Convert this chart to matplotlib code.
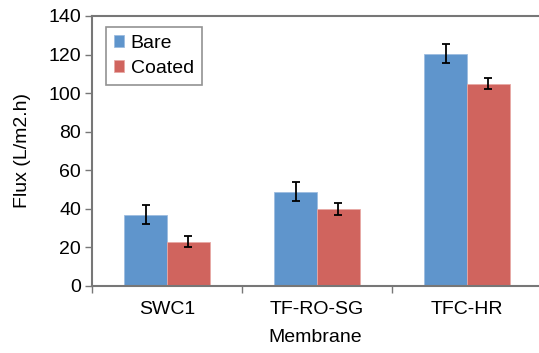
import matplotlib
matplotlib.use("Agg")
import matplotlib.pyplot as plt
import numpy as np

categories = ["SWC1", "TF-RO-SG", "TFC-HR"]
bare = [37, 49, 120.5]
bare_err = [5, 5, 5]
coated = [23, 40, 105]
coated_err = [3, 3, 3]

plt.rcParams['font.family'] = ['Liberation Sans', 'DejaVu Sans']
FS = 14

fig = plt.figure(figsize=(5.39, 3.53), dpi=100)
ax = fig.add_axes([92/539, 1-286/353, (539-92)/539, (286-16)/353])

x = np.arange(len(categories))
w = 0.285
gray = '#777777'
ax.bar(x - w/2, bare, w, yerr=bare_err, color='#5F95CC', edgecolor='#9DBDE0', linewidth=0.6,
       label='Bare', error_kw=dict(ecolor='black', capsize=3, elinewidth=1.3, capthick=1.3))
ax.bar(x + w/2, coated, w, yerr=coated_err, color='#D0645E', edgecolor='#E8A9A5', linewidth=0.6,
       label='Coated', error_kw=dict(ecolor='black', capsize=3, elinewidth=1.3, capthick=1.3))

ax.set_xlim(-0.5, 2.48)
ax.set_ylim(0, 140)
ax.set_yticks(range(0, 141, 20))
ax.set_xticks(x)
ax.set_xticklabels(categories, fontsize=FS)
ax.set_xticks([-0.5, 0.5, 1.5], minor=True)
ax.tick_params(axis='x', which='major', length=0, pad=11)
ax.tick_params(axis='x', which='minor', length=5, color=gray, width=1)
ax.tick_params(axis='y', length=5, color=gray, width=1, labelsize=FS, pad=3)

for s in ['left', 'bottom', 'top']:
    ax.spines[s].set_color(gray)
    ax.spines[s].set_linewidth(1.5)
ax.spines['right'].set_visible(False)

ax.set_ylabel('Flux (L/m2.h)', fontsize=FS, labelpad=12)
ax.set_xlabel('Membrane', fontsize=FS, labelpad=8)

leg = ax.legend(loc='upper left', bbox_to_anchor=(0.031, 0.96), fontsize=FS, frameon=True,
                fancybox=False, handlelength=0.55, handleheight=0.55, handletextpad=0.33,
                borderpad=0.4, labelspacing=0.42, borderaxespad=0)
leg.get_frame().set_edgecolor(gray)
leg.get_frame().set_linewidth(1.2)

fig.savefig('out.png', dpi=100)
